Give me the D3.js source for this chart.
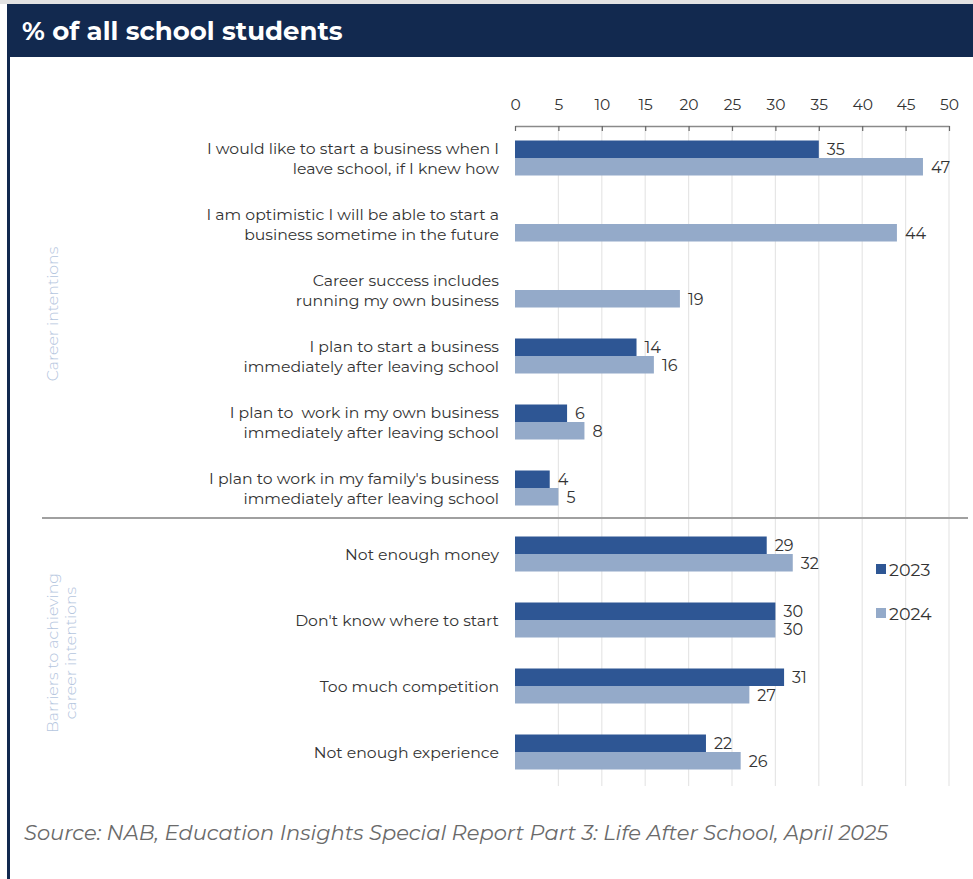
<!DOCTYPE html>
<html>
<head>
<meta charset="utf-8">
<script src="https://cdn.jsdelivr.net/npm/d3@7"></script>
<style>
  html, body { margin: 0; padding: 0; background: #fff; }
  svg { display: block; }
</style>
</head>
<body>
<svg id="chart" width="973" height="879"></svg>
<script>
// Survey items, top to bottom (two-line labels split with "|")
const categories = [
  "I would like to start a business when I|leave school, if I knew how",
  "I am optimistic I will be able to start a|business sometime in the future",
  "Career success includes|running my own business",
  "I plan to start a business|immediately after leaving school",
  "I plan to  work in my own business|immediately after leaving school",
  "I plan to work in my family's business|immediately after leaving school",
  "Not enough money",
  "Don't know where to start",
  "Too much competition",
  "Not enough experience"
];
const seriesNames = ["2023", "2024"];
const values2023 = [35, null, null, 14, 6, 4, 29, 30, 31, 22];
const values2024 = [47, 44, 19, 16, 8, 5, 32, 30, 27, 26];
const tickValues = [0, 5, 10, 15, 20, 25, 30, 35, 40, 45, 50];
const groups = [
  { lines: ["Career intentions"], first: 0, last: 5, shift: -9 },
  { lines: ["Barriers to achieving", "career intentions"], first: 6, last: 9, shift: 0 }
];
const titleText = "% of all school students";
const sourceText = "Source: NAB, Education Insights Special Report Part 3: Life After School, April 2025";

const colors = { "2023": "#2e5694", "2024": "#94aac9" };
const font = "Montserrat, 'Noto Sans', sans-serif";

const svg = d3.select("#chart");
const W = 973, H = 879;

// Frame: thin top rule, navy left edge, title band
svg.append("rect").attr("x", 0).attr("y", 0).attr("width", W).attr("height", 4).attr("fill", "#e2e2e2");
svg.append("rect").attr("x", 7).attr("y", 4).attr("width", W - 7).attr("height", 53).attr("fill", "#12294f");
svg.append("rect").attr("x", 7).attr("y", 4).attr("width", 3).attr("height", H - 4).attr("fill", "#12294f");
svg.append("text")
  .attr("x", 22).attr("y", 40)
  .attr("fill", "#fff")
  .attr("font-family", font)
  .attr("font-weight", 700)
  .attr("font-size", 26)
  .text(titleText);

// Scales
const x = d3.scaleLinear().domain([0, 50]).range([515, 949]);
const y = d3.scaleBand().domain(d3.range(categories.length)).range([125, 785]).padding(0);
const barH = 17.5;
const ySub = d3.scaleBand().domain(seriesNames)
  .range([y.bandwidth() / 2 - barH, y.bandwidth() / 2 + barH]).padding(0);

// Vertical gridlines
svg.append("g").selectAll("line").data(tickValues.slice(1)).join("line")
  .attr("x1", d => x(d)).attr("x2", d => x(d))
  .attr("y1", 126).attr("y2", 786)
  .attr("stroke", "#e6e6e6").attr("stroke-width", 1.2);

// Top axis
const axis = d3.axisTop(x).tickValues(tickValues).tickSize(0).tickPadding(0);
const axG = svg.append("g").attr("transform", "translate(0,126)").call(axis);
axG.select(".domain").attr("stroke", "#8a8a8a").attr("stroke-width", 1.5);
axG.selectAll(".tick text")
  .attr("y", -16)
  .attr("fill", "#333")
  .attr("font-family", font)
  .attr("font-size", 15.5);
axG.selectAll(".tick").append("line")
  .attr("y1", 0).attr("y2", 5)
  .attr("stroke", "#666").attr("stroke-width", 1.2);

// Bars
const rows = categories.map((c, i) => ({ i, c, vals: [
  { s: "2023", v: values2023[i] }, { s: "2024", v: values2024[i] }
].filter(d => d.v !== null) }));

const rowG = svg.append("g").selectAll("g").data(rows).join("g")
  .attr("transform", d => `translate(0,${y(d.i)})`);

rowG.selectAll("rect").data(d => d.vals).join("rect")
  .attr("x", x(0))
  .attr("y", d => ySub(d.s))
  .attr("width", d => x(d.v) - x(0))
  .attr("height", ySub.bandwidth())
  .attr("fill", d => colors[d.s]);

rowG.selectAll("text.val").data(d => d.vals).join("text")
  .attr("class", "val")
  .attr("x", d => x(d.v) + 8)
  .attr("y", d => ySub(d.s) + ySub.bandwidth() / 2 + 6)
  .attr("fill", "#333")
  .attr("font-family", font)
  .attr("font-size", 16)
  .text(d => d.v);

// Category labels
rowG.each(function (d) {
  const lines = d.c.split("|");
  const t = d3.select(this).append("text")
    .attr("text-anchor", "end")
    .attr("fill", "#333")
    .attr("font-family", font)
    .attr("font-size", 15.7)
    .attr("xml:space", "preserve");
  const cy = y.bandwidth() / 2;
  const lh = 20;
  lines.forEach((ln, k) => {
    t.append("tspan")
      .attr("x", 499)
      .attr("y", cy + (k - (lines.length - 1) / 2) * lh + 6)
      .text(ln);
  });
});

// Section separator
svg.append("line")
  .attr("x1", 42).attr("x2", 968)
  .attr("y1", y(6) - 3).attr("y2", y(6) - 3)
  .attr("stroke", "#a0a0a0").attr("stroke-width", 2);

// Rotated section labels
groups.forEach(g => {
  const cy = (y(g.first) + y(g.last) + y.bandwidth()) / 2 + g.shift;
  const t = svg.append("text")
    .attr("transform", `translate(58,${cy}) rotate(-90)`)
    .attr("text-anchor", "middle")
    .attr("fill", "#b5c6de")
    .attr("font-family", font)
    .attr("font-weight", 300)
    .attr("font-size", 15.8);
  g.lines.forEach((ln, k) => {
    t.append("tspan").attr("x", 0)
      .attr("y", k * 18)
      .text(ln);
  });
});

// Legend
const leg = svg.append("g").selectAll("g").data(seriesNames).join("g")
  .attr("transform", (d, i) => `translate(876,${569 + i * 44})`);
leg.append("rect").attr("x", 0).attr("y", -5).attr("width", 10).attr("height", 10)
  .attr("fill", d => colors[d]);
leg.append("text").attr("x", 13).attr("y", 6.5)
  .attr("fill", "#333").attr("font-family", font).attr("font-size", 17.5)
  .text(d => d);

// Source note
svg.append("text")
  .attr("x", 24).attr("y", 840)
  .attr("fill", "#6a6a6a")
  .attr("font-family", font)
  .attr("font-style", "italic")
  .attr("font-size", 21)
  .text(sourceText);
</script>
</body>
</html>
